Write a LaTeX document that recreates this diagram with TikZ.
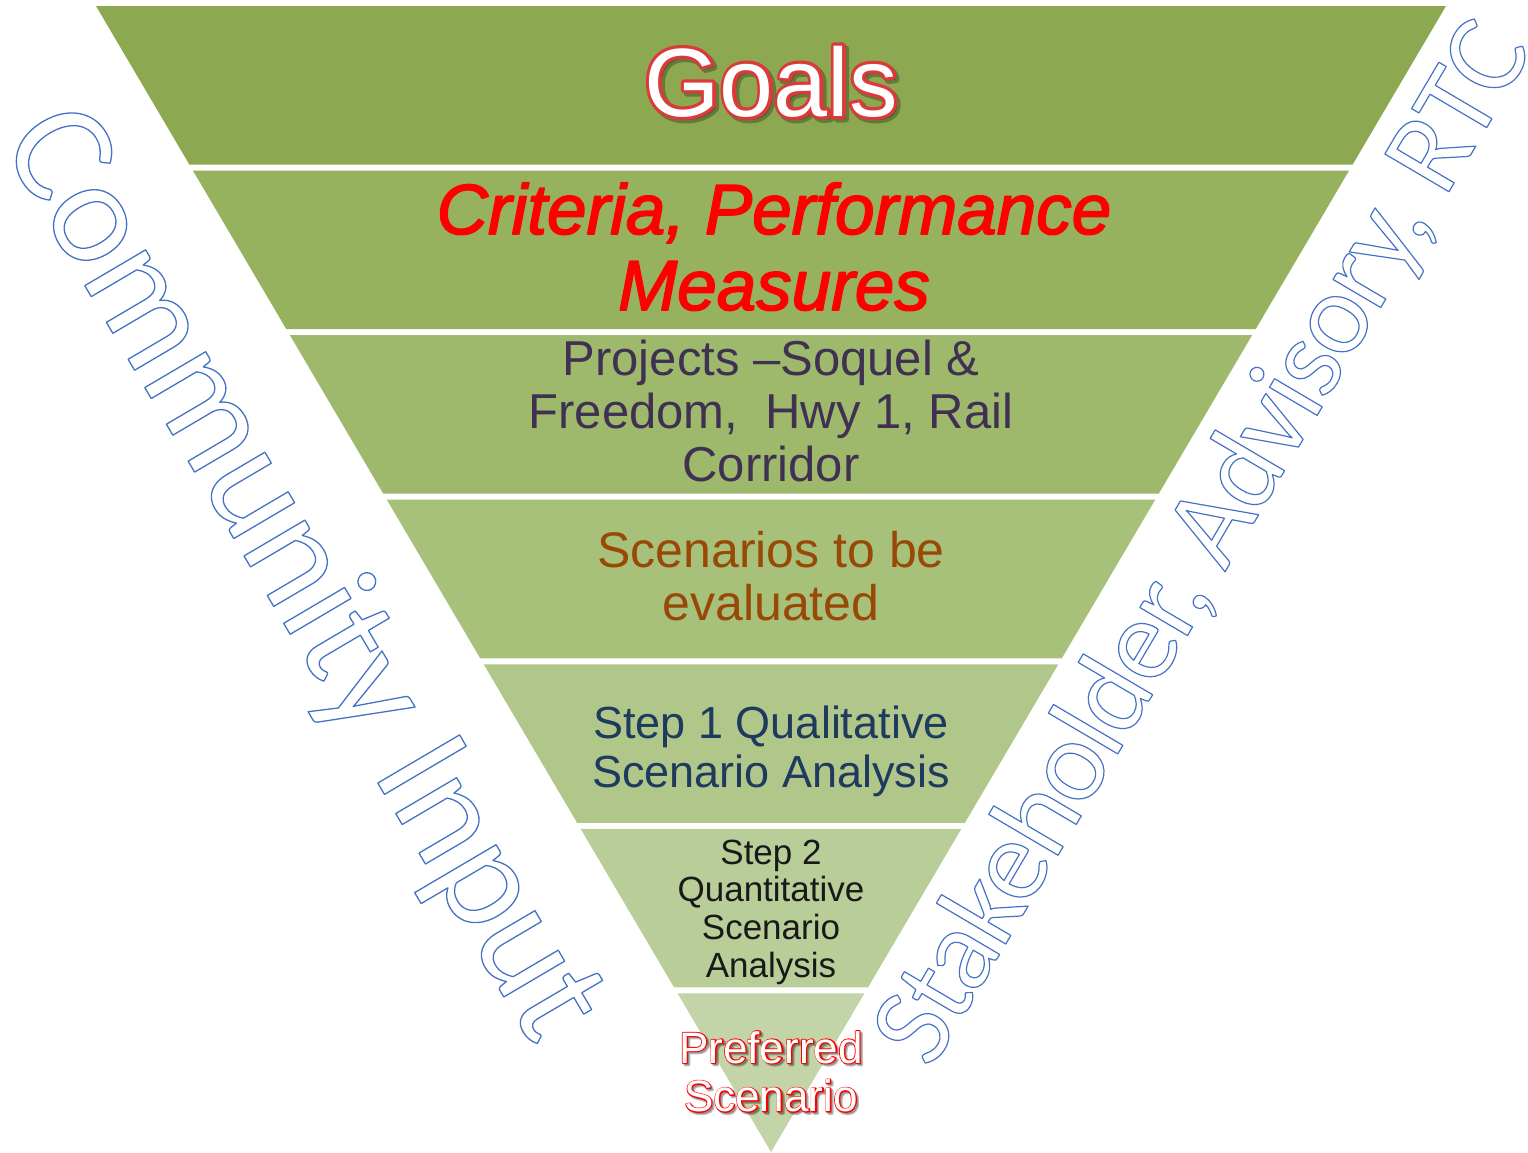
\documentclass[tikz,border=0pt]{standalone}
\usepackage{fontspec}
\setmainfont{Liberation Sans}
\newfontfamily\calib{Carlito}
\newfontfamily\calibtight[LetterSpace=-2]{Carlito}
\definecolor{bandA}{HTML}{8CA951}
\definecolor{bandB}{HTML}{96B25E}
\definecolor{bandC}{HTML}{9EB96C}
\definecolor{bandD}{HTML}{A8C17A}
\definecolor{bandE}{HTML}{B0C789}
\definecolor{bandF}{HTML}{B9CD99}
\definecolor{bandG}{HTML}{C3D4A8}
\definecolor{outlineblue}{HTML}{4472C4}
\definecolor{projtext}{HTML}{403152}
\definecolor{scentext}{HTML}{984807}
\definecolor{steptext}{HTML}{1F3A5F}
\definecolor{rimred}{HTML}{DC3A3A}
\newcommand\strk[1]{\special{pdf:literal #1 w 1 j 1 Tr}}
\newcommand\fillstrk[1]{\special{pdf:literal #1 w 1 j 2 Tr}}
\newcommand\trnorm{\special{pdf:literal 0 Tr}}
\newcommand\mlines[1]{\vtop{\lineskiplimit=-\maxdimen\halign{\hfil##\hfil\cr#1\crcr}}}
\tikzset{
  lbl/.style={inner sep=0pt, anchor=base},
  hollow/.style={inner sep=0pt, anchor=base, text=outlineblue},
}
\begin{document}
\begin{tikzpicture}[x=1bp,y=-1bp]
\useasboundingbox (0,0) rectangle (1528,1152);
\fill[white] (0,0) rectangle (1528,1152);
% bands
\fill[bandA] (96,6) -- (1446,6) -- (1352.60,164.57) -- (189.40,164.57) -- cycle;
\fill[bandB] (192.93,170.57) -- (1349.07,170.57) -- (1255.66,329.14) -- (286.34,329.14) -- cycle;
\fill[bandC] (289.87,335.14) -- (1252.13,335.14) -- (1158.73,493.71) -- (383.27,493.71) -- cycle;
\fill[bandD] (386.80,499.71) -- (1155.20,499.71) -- (1061.80,658.29) -- (480.20,658.29) -- cycle;
\fill[bandE] (483.73,664.29) -- (1058.27,664.29) -- (964.86,822.86) -- (577.14,822.86) -- cycle;
\fill[bandF] (580.67,828.86) -- (961.33,828.86) -- (867.93,987.43) -- (674.07,987.43) -- cycle;
\fill[bandG] (677.60,993.43) -- (864.40,993.43) -- (771,1152) -- cycle;
% Goals
\node[lbl, font=\fontsize{97bp}{100bp}\selectfont, text=black, opacity=.28] (goalsshadow) at (774,119) {\fillstrk{7}Goals\trnorm};
\node[lbl, font=\fontsize{97bp}{100bp}\selectfont, text=rimred] (goalsrim) at (771,116) {\fillstrk{6.5}Goals\trnorm};
\node[lbl, font=\fontsize{97bp}{100bp}\selectfont, text=white] (goals) at (771,116) {Goals};
% Criteria
\node[lbl, font=\fontsize{71bp}{76bp}\selectfont\itshape, text=red] (criteria) at (774,234) {\fillstrk{1.6}\mlines{Criteria, Performance\cr Measures}\trnorm};
% Projects
\node[lbl, font=\fontsize{49bp}{53bp}\selectfont, text=projtext] (projects) at (771,375) {\mlines{Projects –Soquel \&\cr Freedom,\ \ Hwy 1, Rail\cr Corridor}};
% Scenarios
\node[lbl, font=\fontsize{50bp}{53bp}\selectfont, text=scentext] (scenarios) at (771,567) {\mlines{Scenarios to be\cr evaluated}};
% Step 1
\node[lbl, font=\fontsize{45bp}{49bp}\selectfont, text=steptext] (stepone) at (771,738) {\mlines{Step 1 Qualitative\cr Scenario Analysis}};
% Step 2
\node[lbl, font=\fontsize{35bp}{37.7bp}\selectfont, text=black!90] (steptwo) at (771,864) {\mlines{Step 2\cr Quantitative\cr Scenario\cr Analysis}};
% Preferred
\node[lbl, font=\fontsize{44bp}{48.5bp}\selectfont, text=black, opacity=.25] (prefshadow) at (773,1065) {\fillstrk{2.5}\mlines{Preferred\cr Scenario}\trnorm};
\node[lbl, font=\fontsize{44bp}{48.5bp}\selectfont, text=red] (prefrim) at (771,1063) {\fillstrk{2.0}\mlines{Preferred\cr Scenario}\trnorm};
\node[lbl, font=\fontsize{44bp}{48.5bp}\selectfont, text=white] (preferred) at (771,1063) {\mlines{Preferred\cr Scenario}};
% side outline texts
\node[hollow, font=\calib\fontsize{148bp}{150bp}\selectfont, rotate=-59.5] (community) at (267,595) {\strk{1.3}Community Input\trnorm};
\node[hollow, font=\calibtight\fontsize{116bp}{118bp}\selectfont, rotate=59.5] (stakeholder) at (1232,560) {\strk{1.2}Stakeholder, Advisory, RTC\trnorm};
\end{tikzpicture}
\end{document}
